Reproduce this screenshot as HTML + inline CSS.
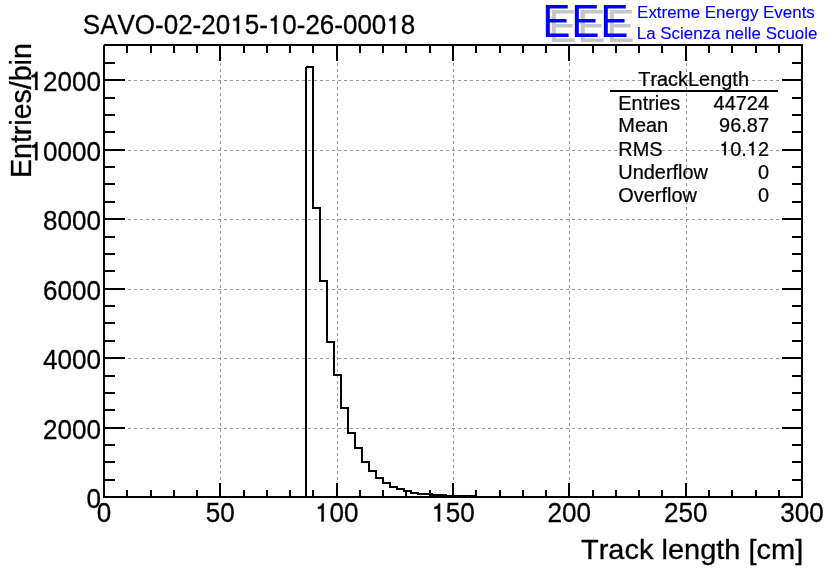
<!DOCTYPE html>
<html><head><meta charset="utf-8"><title>TrackLength</title>
<style>html,body{margin:0;padding:0;background:#fff;}body{width:836px;height:572px;overflow:hidden;}svg{display:block;will-change:transform;}text{font-family:"Liberation Sans",sans-serif;font-kerning:none;}</style>
</head><body>
<svg width="836" height="572" viewBox="0 0 836 572">
<rect x="0" y="0" width="836" height="572" fill="#ffffff"/>
<g shape-rendering="crispEdges" stroke="#999999" stroke-width="1" stroke-dasharray="3 3" fill="none">
<line x1="220.5" y1="45" x2="220.5" y2="497"/>
<line x1="337.5" y1="45" x2="337.5" y2="497"/>
<line x1="453.5" y1="45" x2="453.5" y2="497"/>
<line x1="569.5" y1="45" x2="569.5" y2="497"/>
<line x1="686.5" y1="45" x2="686.5" y2="497"/>
<line x1="104" y1="428.5" x2="802" y2="428.5"/>
<line x1="104" y1="358.5" x2="802" y2="358.5"/>
<line x1="104" y1="289.5" x2="802" y2="289.5"/>
<line x1="104" y1="219.5" x2="802" y2="219.5"/>
<line x1="104" y1="150.5" x2="802" y2="150.5"/>
<line x1="104" y1="80.5" x2="802" y2="80.5"/>
</g>
<path d="M306 497 L306 67 L313 67 L313 208 L320 208 L320 281 L327 281 L327 342 L334 342 L334 375 L341 375 L341 408 L348 408 L348 433 L355 433 L355 448 L362 448 L362 462 L369 462 L369 471 L376 471 L376 478 L383 478 L383 483 L390 483 L390 487 L397 487 L397 489 L404 489 L404 491 L411 491 L411 493 L418 493 L418 494 L425 494 L425 494 L432 494 L432 495 L439 495 L439 495 L446 495 L446 496 L453 496 L453 496 L460 496 L460 496 L467 496 L467 496 L474 496 L474 497" fill="none" stroke="#000" stroke-width="2" stroke-linejoin="miter" stroke-linecap="square" shape-rendering="crispEdges"/>
<g shape-rendering="crispEdges" fill="#000" stroke="none">
<rect x="103" y="44" width="700" height="2"/>
<rect x="103" y="496" width="700" height="2"/>
<rect x="103" y="44" width="2" height="454"/>
<rect x="801" y="44" width="2" height="454"/>
<rect x="126" y="490" width="2" height="6"/>
<rect x="126" y="46" width="2" height="7"/>
<rect x="150" y="490" width="2" height="6"/>
<rect x="150" y="46" width="2" height="7"/>
<rect x="173" y="490" width="2" height="6"/>
<rect x="173" y="46" width="2" height="7"/>
<rect x="196" y="490" width="2" height="6"/>
<rect x="196" y="46" width="2" height="7"/>
<rect x="219" y="483" width="2" height="13"/>
<rect x="219" y="46" width="2" height="15"/>
<rect x="243" y="490" width="2" height="6"/>
<rect x="243" y="46" width="2" height="7"/>
<rect x="266" y="490" width="2" height="6"/>
<rect x="266" y="46" width="2" height="7"/>
<rect x="289" y="490" width="2" height="6"/>
<rect x="289" y="46" width="2" height="7"/>
<rect x="312" y="490" width="2" height="6"/>
<rect x="312" y="46" width="2" height="7"/>
<rect x="336" y="483" width="2" height="13"/>
<rect x="336" y="46" width="2" height="15"/>
<rect x="359" y="490" width="2" height="6"/>
<rect x="359" y="46" width="2" height="7"/>
<rect x="382" y="490" width="2" height="6"/>
<rect x="382" y="46" width="2" height="7"/>
<rect x="405" y="490" width="2" height="6"/>
<rect x="405" y="46" width="2" height="7"/>
<rect x="429" y="490" width="2" height="6"/>
<rect x="429" y="46" width="2" height="7"/>
<rect x="452" y="483" width="2" height="13"/>
<rect x="452" y="46" width="2" height="15"/>
<rect x="475" y="490" width="2" height="6"/>
<rect x="475" y="46" width="2" height="7"/>
<rect x="499" y="490" width="2" height="6"/>
<rect x="499" y="46" width="2" height="7"/>
<rect x="522" y="490" width="2" height="6"/>
<rect x="522" y="46" width="2" height="7"/>
<rect x="545" y="490" width="2" height="6"/>
<rect x="545" y="46" width="2" height="7"/>
<rect x="568" y="483" width="2" height="13"/>
<rect x="568" y="46" width="2" height="15"/>
<rect x="592" y="490" width="2" height="6"/>
<rect x="592" y="46" width="2" height="7"/>
<rect x="615" y="490" width="2" height="6"/>
<rect x="615" y="46" width="2" height="7"/>
<rect x="638" y="490" width="2" height="6"/>
<rect x="638" y="46" width="2" height="7"/>
<rect x="661" y="490" width="2" height="6"/>
<rect x="661" y="46" width="2" height="7"/>
<rect x="685" y="483" width="2" height="13"/>
<rect x="685" y="46" width="2" height="15"/>
<rect x="708" y="490" width="2" height="6"/>
<rect x="708" y="46" width="2" height="7"/>
<rect x="731" y="490" width="2" height="6"/>
<rect x="731" y="46" width="2" height="7"/>
<rect x="755" y="490" width="2" height="6"/>
<rect x="755" y="46" width="2" height="7"/>
<rect x="778" y="490" width="2" height="6"/>
<rect x="778" y="46" width="2" height="7"/>
<rect x="105" y="479" width="10" height="2"/>
<rect x="792" y="479" width="9" height="2"/>
<rect x="105" y="461" width="10" height="2"/>
<rect x="792" y="461" width="9" height="2"/>
<rect x="105" y="444" width="10" height="2"/>
<rect x="792" y="444" width="9" height="2"/>
<rect x="105" y="427" width="20" height="2"/>
<rect x="782" y="427" width="19" height="2"/>
<rect x="105" y="409" width="10" height="2"/>
<rect x="792" y="409" width="9" height="2"/>
<rect x="105" y="392" width="10" height="2"/>
<rect x="792" y="392" width="9" height="2"/>
<rect x="105" y="375" width="10" height="2"/>
<rect x="792" y="375" width="9" height="2"/>
<rect x="105" y="357" width="20" height="2"/>
<rect x="782" y="357" width="19" height="2"/>
<rect x="105" y="340" width="10" height="2"/>
<rect x="792" y="340" width="9" height="2"/>
<rect x="105" y="322" width="10" height="2"/>
<rect x="792" y="322" width="9" height="2"/>
<rect x="105" y="305" width="10" height="2"/>
<rect x="792" y="305" width="9" height="2"/>
<rect x="105" y="288" width="20" height="2"/>
<rect x="782" y="288" width="19" height="2"/>
<rect x="105" y="270" width="10" height="2"/>
<rect x="792" y="270" width="9" height="2"/>
<rect x="105" y="253" width="10" height="2"/>
<rect x="792" y="253" width="9" height="2"/>
<rect x="105" y="236" width="10" height="2"/>
<rect x="792" y="236" width="9" height="2"/>
<rect x="105" y="218" width="20" height="2"/>
<rect x="782" y="218" width="19" height="2"/>
<rect x="105" y="201" width="10" height="2"/>
<rect x="792" y="201" width="9" height="2"/>
<rect x="105" y="183" width="10" height="2"/>
<rect x="792" y="183" width="9" height="2"/>
<rect x="105" y="166" width="10" height="2"/>
<rect x="792" y="166" width="9" height="2"/>
<rect x="105" y="149" width="20" height="2"/>
<rect x="782" y="149" width="19" height="2"/>
<rect x="105" y="131" width="10" height="2"/>
<rect x="792" y="131" width="9" height="2"/>
<rect x="105" y="114" width="10" height="2"/>
<rect x="792" y="114" width="9" height="2"/>
<rect x="105" y="97" width="10" height="2"/>
<rect x="792" y="97" width="9" height="2"/>
<rect x="105" y="79" width="20" height="2"/>
<rect x="782" y="79" width="19" height="2"/>
<rect x="105" y="62" width="10" height="2"/>
<rect x="792" y="62" width="9" height="2"/>
</g>
<g shape-rendering="crispEdges" fill="#fff"><rect x="103" y="44" width="1" height="1"/><rect x="305" y="66" width="1" height="1"/></g>
<g transform="translate(82.8,34.3) scale(0.9125,1)" font-size="28.5" fill="#000" stroke="#000" stroke-width="0.3" >
<text x="0.000" y="0">SAVO-02-20</text>
<path transform="translate(161.579,0) scale(0.013916,-0.013916)" d="M515 45L696 45L696 1355L572 1355C548 1215 450 1125 235 1100L235 965L515 965Z" vector-effect="non-scaling-stroke"/>
<text x="177.429" y="0">5-</text>
<path transform="translate(202.770,0) scale(0.013916,-0.013916)" d="M515 45L696 45L696 1355L572 1355C548 1215 450 1125 235 1100L235 965L515 965Z" vector-effect="non-scaling-stroke"/>
<text x="218.621" y="0">0-26-000</text>
<path transform="translate(332.704,0) scale(0.013916,-0.013916)" d="M515 45L696 45L696 1355L572 1355C548 1215 450 1125 235 1100L235 965L515 965Z" vector-effect="non-scaling-stroke"/>
<text x="348.554" y="0">8</text>
</g>
<text transform="translate(104,522.2) scale(0.918,1)" font-size="28.4" text-anchor="middle" fill="#000" stroke="#000" stroke-width="0.3" >0</text>
<text transform="translate(220.333,522.2) scale(0.918,1)" font-size="28.4" text-anchor="middle" fill="#000" stroke="#000" stroke-width="0.3" >50</text>
<g transform="translate(336.667,522.2) scale(0.918,1)" font-size="28.4" fill="#000" stroke="#000" stroke-width="0.3" >
<path transform="translate(-23.692,0) scale(0.013867,-0.013867)" d="M515 45L696 45L696 1355L572 1355C548 1215 450 1125 235 1100L235 965L515 965Z" vector-effect="non-scaling-stroke"/>
<text x="-7.897" y="0">00</text>
</g>
<g transform="translate(453,522.2) scale(0.918,1)" font-size="28.4" fill="#000" stroke="#000" stroke-width="0.3" >
<path transform="translate(-23.692,0) scale(0.013867,-0.013867)" d="M515 45L696 45L696 1355L572 1355C548 1215 450 1125 235 1100L235 965L515 965Z" vector-effect="non-scaling-stroke"/>
<text x="-7.897" y="0">50</text>
</g>
<text transform="translate(569.333,522.2) scale(0.918,1)" font-size="28.4" text-anchor="middle" fill="#000" stroke="#000" stroke-width="0.3" >200</text>
<text transform="translate(685.667,522.2) scale(0.918,1)" font-size="28.4" text-anchor="middle" fill="#000" stroke="#000" stroke-width="0.3" >250</text>
<text transform="translate(802,522.2) scale(0.918,1)" font-size="28.4" text-anchor="middle" fill="#000" stroke="#000" stroke-width="0.3" >300</text>
<text transform="translate(101.1,507.7) scale(0.918,1)" font-size="28.4" text-anchor="end" fill="#000" stroke="#000" stroke-width="0.3" >0</text>
<text transform="translate(101.1,438.5) scale(0.918,1)" font-size="28.4" text-anchor="end" fill="#000" stroke="#000" stroke-width="0.3" >2000</text>
<text transform="translate(101.1,368.6) scale(0.918,1)" font-size="28.4" text-anchor="end" fill="#000" stroke="#000" stroke-width="0.3" >4000</text>
<text transform="translate(101.1,299.9) scale(0.918,1)" font-size="28.4" text-anchor="end" fill="#000" stroke="#000" stroke-width="0.3" >6000</text>
<text transform="translate(101.1,229.6) scale(0.918,1)" font-size="28.4" text-anchor="end" fill="#000" stroke="#000" stroke-width="0.3" >8000</text>
<g transform="translate(101.1,160.9) scale(0.918,1)" font-size="28.4" fill="#000" stroke="#000" stroke-width="0.3" >
<path transform="translate(-78.974,0) scale(0.013867,-0.013867)" d="M515 45L696 45L696 1355L572 1355C548 1215 450 1125 235 1100L235 965L515 965Z" vector-effect="non-scaling-stroke"/>
<text x="-63.179" y="0">0000</text>
</g>
<g transform="translate(101.1,90.6) scale(0.918,1)" font-size="28.4" fill="#000" stroke="#000" stroke-width="0.3" >
<path transform="translate(-78.974,0) scale(0.013867,-0.013867)" d="M515 45L696 45L696 1355L572 1355C548 1215 450 1125 235 1100L235 965L515 965Z" vector-effect="non-scaling-stroke"/>
<text x="-63.179" y="0">2000</text>
</g>
<text transform="translate(803.2,558.7) scale(1.017,1)" font-size="28.5" text-anchor="end" fill="#000" stroke="#000" stroke-width="0.3" >Track length [cm]</text>
<text transform="translate(31.4,43.2) rotate(-90) scale(0.998,1)" font-size="28.6" text-anchor="end" fill="#000" stroke="#000" stroke-width="0.3" >Entries/bin</text>
<text transform="translate(693.6,85.6) scale(0.949,1)" font-size="21" text-anchor="middle" fill="#000" stroke="#000" stroke-width="0.25" >TrackLength</text>
<rect x="610" y="90" width="168" height="2" fill="#000" shape-rendering="crispEdges"/>
<text transform="translate(618.3,109.8) scale(0.949,1)" font-size="21" text-anchor="start" fill="#000" stroke="#000" stroke-width="0.25" >Entries</text>
<text transform="translate(769,109.8) scale(0.949,1)" font-size="21" text-anchor="end" fill="#000" stroke="#000" stroke-width="0.25" >44724</text>
<text transform="translate(618.3,132.3) scale(0.949,1)" font-size="21" text-anchor="start" fill="#000" stroke="#000" stroke-width="0.25" >Mean</text>
<text transform="translate(769,132.3) scale(0.949,1)" font-size="21" text-anchor="end" fill="#000" stroke="#000" stroke-width="0.25" >96.87</text>
<text transform="translate(618.3,155.6) scale(0.949,1)" font-size="21" text-anchor="start" fill="#000" stroke="#000" stroke-width="0.25" >RMS</text>
<g transform="translate(769,155.6) scale(0.949,1)" font-size="21" fill="#000" stroke="#000" stroke-width="0.25" >
<path transform="translate(-52.551,0) scale(0.010254,-0.010254)" d="M515 45L696 45L696 1355L572 1355C548 1215 450 1125 235 1100L235 965L515 965Z" vector-effect="non-scaling-stroke"/>
<text x="-40.872" y="0">0.</text>
<path transform="translate(-23.358,0) scale(0.010254,-0.010254)" d="M515 45L696 45L696 1355L572 1355C548 1215 450 1125 235 1100L235 965L515 965Z" vector-effect="non-scaling-stroke"/>
<text x="-11.679" y="0">2</text>
</g>
<text transform="translate(618.3,178.7) scale(0.949,1)" font-size="21" text-anchor="start" fill="#000" stroke="#000" stroke-width="0.25" >Underflow</text>
<text transform="translate(769,178.7) scale(0.949,1)" font-size="21" text-anchor="end" fill="#000" stroke="#000" stroke-width="0.25" >0</text>
<text transform="translate(618.3,201.7) scale(0.949,1)" font-size="21" text-anchor="start" fill="#000" stroke="#000" stroke-width="0.25" >Overflow</text>
<text transform="translate(769,201.7) scale(0.949,1)" font-size="21" text-anchor="end" fill="#000" stroke="#000" stroke-width="0.25" >0</text>
<text transform="translate(548.5,41.7) scale(0.92,1)" font-size="45.4" text-anchor="start" fill="#c6c6c6" stroke="#c6c6c6" stroke-width="0.1" letter-spacing="1.3">EEE</text>
<text transform="translate(542.5,37) scale(0.92,1)" font-size="45.4" text-anchor="start" fill="#0000ff" stroke="#0000ff" stroke-width="0.1" letter-spacing="1.3">EEE</text>
<text transform="translate(637.1,18) scale(0.992,1)" font-size="17.06" text-anchor="start" fill="#0000ff" stroke="#0000ff" stroke-width="0.12" >Extreme Energy Events</text>
<text transform="translate(636.8,39.1) scale(0.992,1)" font-size="17.06" text-anchor="start" fill="#0000ff" stroke="#0000ff" stroke-width="0.12" >La Scienza nelle Scuole</text>
</svg>
</body></html>
